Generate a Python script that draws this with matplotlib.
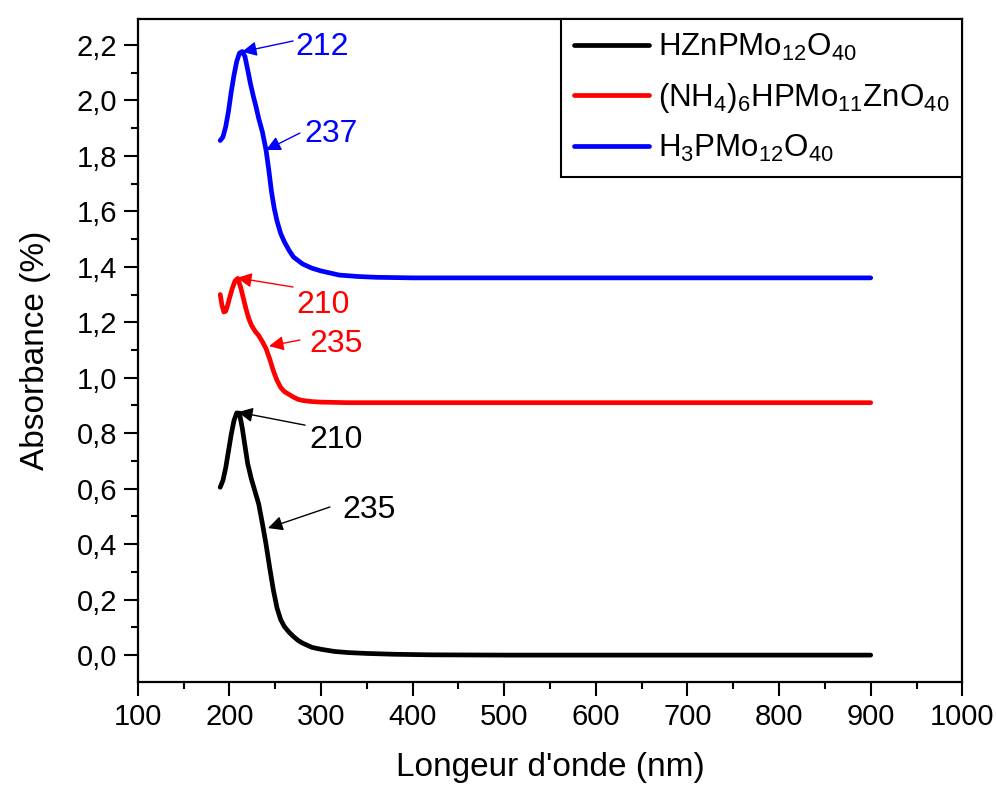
import matplotlib
matplotlib.use('Agg')
import matplotlib.pyplot as plt
from matplotlib.ticker import MultipleLocator, FuncFormatter

plt.rcParams['font.family'] = ['Liberation Sans', 'DejaVu Sans']
plt.rcParams['mathtext.fontset'] = 'custom'
plt.rcParams['mathtext.rm'] = 'Liberation Sans'
plt.rcParams['mathtext.it'] = 'Liberation Sans:italic'
plt.rcParams['mathtext.bf'] = 'Liberation Sans:bold'
plt.rcParams['mathtext.default'] = 'regular'

# data (wavelength in nm, absorbance)
wl_black = [190, 193, 196, 199, 202, 205, 208, 211, 214, 217, 220, 224, 228, 232, 236, 240,
            244, 248, 252, 256, 260, 265, 270, 275, 280, 290, 300, 315, 330, 350, 380, 420,
            500, 600, 700, 800, 900]
abs_black = [0.605, 0.63, 0.675, 0.735, 0.795, 0.845, 0.873, 0.872, 0.82, 0.755, 0.69, 0.635,
             0.59, 0.545, 0.475, 0.40, 0.315, 0.235, 0.17, 0.128, 0.103, 0.083, 0.067, 0.053,
             0.043, 0.028, 0.021, 0.013, 0.009, 0.006, 0.003, 0.001, 0.0, 0.0, 0.0, 0.0, 0.0]

wl_red = [190, 192, 194, 196, 198, 200, 203, 206, 209, 212, 215, 218, 221, 224, 228, 232, 236,
          240, 244, 248, 252, 256, 260, 265, 270, 275, 280, 290, 300, 315, 330, 400, 500, 600,
          700, 800, 900]
abs_red = [1.30, 1.26, 1.237, 1.24, 1.26, 1.285, 1.32, 1.348, 1.358, 1.33, 1.29, 1.25, 1.215,
           1.19, 1.168, 1.152, 1.13, 1.105, 1.068, 1.025, 0.99, 0.965, 0.95, 0.94, 0.93, 0.922,
           0.918, 0.914, 0.912, 0.911, 0.91, 0.91, 0.91, 0.91, 0.91, 0.91, 0.91]

wl_blue = [190, 193, 196, 199, 202, 205, 208, 211, 214, 217, 220, 223, 226, 229, 232, 236, 240,
           243, 246, 249, 252, 256, 260, 265, 270, 280, 290, 300, 320, 340, 360, 400, 500, 600,
           700, 800, 900]
abs_blue = [1.855, 1.868, 1.905, 1.96, 2.03, 2.09, 2.14, 2.17, 2.176, 2.158, 2.11, 2.06, 2.017,
            1.978, 1.935, 1.887, 1.821, 1.75, 1.67, 1.61, 1.565, 1.52, 1.49, 1.46, 1.435, 1.41,
            1.395, 1.385, 1.37, 1.365, 1.362, 1.36, 1.36, 1.36, 1.36, 1.36, 1.36]

labels = [r'HZnPMo$_{12}$O$_{40}$',
          r'(NH$_4$)$_6$HPMo$_{11}$ZnO$_{40}$',
          r'H$_3$PMo$_{12}$O$_{40}$']
colors = ['black', '#ff0000', '#0000ff']

# peak annotations: text, colour, arrow tip (wl, abs), arrow tail, text centre
ann_text = ['212', '237', '210', '235', '210', '235']
ann_color = ['#0000ff', '#0000ff', '#ff0000', '#ff0000', 'black', 'black']
ann_tip = [(213.8, 2.175), (240.0, 1.821), (208.4, 1.360), (243.3, 1.114), (209.5, 0.876), (242.2, 0.458)]
ann_tail = [(269.6, 2.214), (277.0, 1.882), (269.5, 1.327), (277.0, 1.136), (282.6, 0.829), (309.8, 0.534)]
ann_pos = [(301.0, 2.193), (311.0, 1.879), (302.0, 1.262), (316.5, 1.122), (316.5, 0.775), (352.4, 0.523)]

fig = plt.figure(figsize=(9.96, 7.86), dpi=100)
ax = fig.add_axes([0.1383, 0.1323, 0.8279, 0.8431])

series = [(wl_black, abs_black), (wl_red, abs_red), (wl_blue, abs_blue)]
for (x, y), lab, c in zip(series, labels, colors):
    ax.plot(x, y, color=c, lw=3.4, label=lab, solid_joinstyle='round', solid_capstyle='round')

for t, c, tip, tail, pos in zip(ann_text, ann_color, ann_tip, ann_tail, ann_pos):
    ax.annotate('', xy=tip, xytext=tail,
                arrowprops=dict(arrowstyle='-|>', color=c, lw=1.0, mutation_scale=22,
                                shrinkA=0, shrinkB=0))
    ax.text(pos[0], pos[1], t, color=c, fontsize=23, ha='center', va='center')

ax.set_xlim(100, 1000)
ax.set_ylim(-0.097, 2.292)
ax.xaxis.set_major_locator(MultipleLocator(100))
ax.xaxis.set_minor_locator(MultipleLocator(50))
ax.yaxis.set_major_locator(MultipleLocator(0.2))
ax.yaxis.set_minor_locator(MultipleLocator(0.1))
ax.yaxis.set_major_formatter(FuncFormatter(lambda v, p: f'{v:.1f}'.replace('.', ',')))

ax.tick_params(which='major', direction='out', length=10, width=1.5, labelsize=21, pad=5)
ax.tick_params(which='minor', direction='out', length=5, width=1.5)
for s in ax.spines.values():
    s.set_linewidth(1.6)

ax.set_xlabel("Longeur d'onde (nm)", fontsize=24)
ax.set_ylabel('Absorbance (%)', fontsize=24)
ax.xaxis.set_label_coords(0.5, -0.1056)
ax.yaxis.set_label_coords(-0.1245, 0.5)
ax.yaxis.label.set_va('center')

leg = ax.legend(loc='upper right', bbox_to_anchor=(1.0, 1.0), borderaxespad=0, fontsize=22.5,
                fancybox=False, edgecolor='black', framealpha=1, handlelength=2.4,
                handletextpad=0.3, labelspacing=0.58, borderpad=0.4)
leg.get_frame().set_linewidth(1.5)

fig.savefig('out.png', dpi=100)
